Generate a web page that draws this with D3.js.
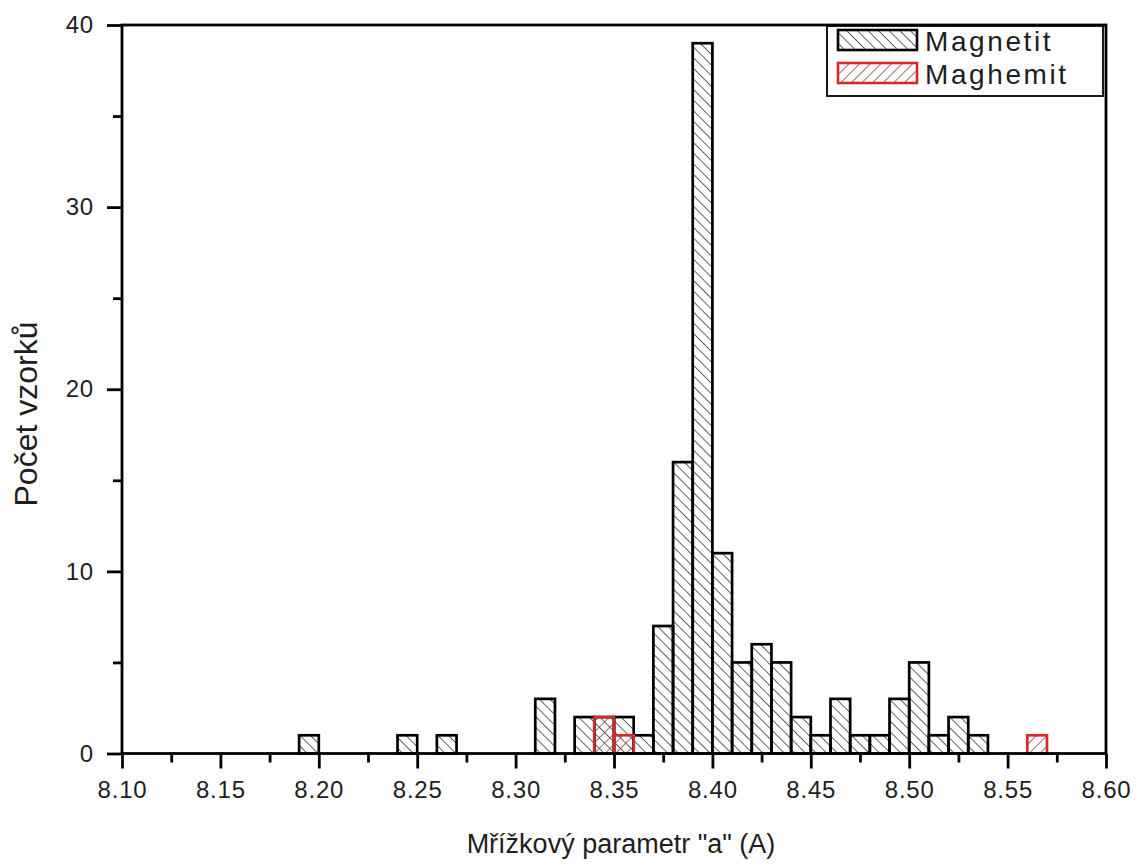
<!DOCTYPE html>
<html>
<head>
<meta charset="utf-8">
<script src="https://cdn.jsdelivr.net/npm/d3@7"></script>
<style>
  html, body { margin: 0; padding: 0; background: #fff; }
  svg { display: block; font-family: "Liberation Sans", Arial, sans-serif; }
</style>
</head>
<body>
<svg id="chart" width="1138" height="866"></svg>
<script>
// Histogram bins (left edge of each 0.01 Å bin) and sample counts
const binWidth = 0.01;
const magnetitBins   = [8.19, 8.24, 8.26, 8.31, 8.33, 8.34, 8.35, 8.36, 8.37, 8.38, 8.39, 8.40, 8.41, 8.42, 8.43, 8.44, 8.45, 8.46, 8.47, 8.48, 8.49, 8.50, 8.51, 8.52, 8.53];
const magnetitCounts = [1,    1,    1,    3,    2,    2,    2,    1,    7,    16,   39,   11,   5,    6,    5,    2,    1,    3,    1,    1,    3,    5,    1,    2,    1];
const maghemitBins   = [8.34, 8.35, 8.56];
const maghemitCounts = [2,    1,    1];

const xTicks = [8.10, 8.15, 8.20, 8.25, 8.30, 8.35, 8.40, 8.45, 8.50, 8.55, 8.60];
const yTicks = [0, 10, 20, 30, 40];
const seriesNames = ["Magnetit", "Maghemit"];

const svg = d3.select("#chart");
const plotL = 122, plotR = 1106, plotT = 25, plotB = 753.5;

const x = d3.scaleLinear().domain([8.10, 8.60]).range([plotL, plotR]);
const y = d3.scaleLinear().domain([0, 40]).range([plotB, plotT]);

// Hatch patterns
const defs = svg.append("defs");
function hatch(id, angle, color) {
  const s = 7.5;
  const p = defs.append("pattern")
    .attr("id", id)
    .attr("patternUnits", "userSpaceOnUse")
    .attr("width", s).attr("height", s)
    .attr("patternTransform", `rotate(${angle})`);
  p.append("line")
    .attr("x1", 0).attr("y1", 0).attr("x2", s).attr("y2", 0)
    .attr("stroke", color).attr("stroke-width", 1.3);
}
hatch("hatchBack", 45, "#111");
hatch("hatchFwd", -45, "#7a2424");

const red = "#d42a2a";

// Magnetit bars
svg.append("g").selectAll("rect")
  .data(magnetitBins.map((b, i) => ({ b, c: magnetitCounts[i] })))
  .join("rect")
  .attr("x", d => x(d.b))
  .attr("width", d => x(d.b + binWidth) - x(d.b))
  .attr("y", d => y(d.c))
  .attr("height", d => y(0) - y(d.c))
  .attr("fill", "url(#hatchBack)")
  .attr("stroke", "#000")
  .attr("stroke-width", 2.7);

// Maghemit bars drawn over
svg.append("g").selectAll("rect")
  .data(maghemitBins.map((b, i) => ({ b, c: maghemitCounts[i] })))
  .join("rect")
  .attr("x", d => x(d.b))
  .attr("width", d => x(d.b + binWidth) - x(d.b))
  .attr("y", d => y(d.c))
  .attr("height", d => y(0) - y(d.c))
  .attr("fill", "url(#hatchFwd)")
  .attr("stroke", red)
  .attr("stroke-width", 2.7);

// Frame
svg.append("rect")
  .attr("x", plotL).attr("y", plotT)
  .attr("width", plotR - plotL).attr("height", plotB - plotT)
  .attr("fill", "none").attr("stroke", "#000").attr("stroke-width", 2.8);

const textColor = "#1e1e1e";

// X axis
const xAxis = d3.axisBottom(x)
  .tickValues(xTicks)
  .tickFormat(d3.format(".2f"))
  .tickSize(15).tickPadding(12);
const gx = svg.append("g").attr("transform", `translate(0,${plotB})`).call(xAxis);
gx.attr("font-size", null).attr("font-family", null);
gx.select(".domain").remove();
gx.selectAll(".tick line").attr("stroke", "#000").attr("stroke-width", 2.8);
gx.selectAll(".tick text").style("font-size", "24px").style("letter-spacing", "0.8px")
  .attr("fill", textColor);

const xMinor = d3.range(0, 10).map(i => 8.125 + i * 0.05);
svg.append("g").attr("transform", `translate(0,${plotB})`)
  .call(d3.axisBottom(x).tickValues(xMinor).tickSize(9).tickFormat(""))
  .call(g => g.select(".domain").remove())
  .selectAll(".tick line").attr("stroke", "#000").attr("stroke-width", 2.8);

// Y axis
const yAxis = d3.axisLeft(y)
  .tickValues(yTicks)
  .tickSize(15).tickPadding(13);
const gy = svg.append("g").attr("transform", `translate(${plotL},0)`).call(yAxis);
gy.attr("font-size", null).attr("font-family", null);
gy.select(".domain").remove();
gy.selectAll(".tick line").attr("stroke", "#000").attr("stroke-width", 2.8);
gy.selectAll(".tick text").style("font-size", "24px").style("letter-spacing", "0.8px")
  .attr("fill", textColor);

const yMinor = [5, 15, 25, 35];
svg.append("g").attr("transform", `translate(${plotL},0)`)
  .call(d3.axisLeft(y).tickValues(yMinor).tickSize(9).tickFormat(""))
  .call(g => g.select(".domain").remove())
  .selectAll(".tick line").attr("stroke", "#000").attr("stroke-width", 2.8);

// Axis titles
svg.append("text")
  .attr("x", 621).attr("y", 853)
  .attr("text-anchor", "middle")
  .attr("font-size", 27).attr("fill", textColor)
  .text("Mřížkový parametr \"a\" (A)");

svg.append("text")
  .attr("transform", `translate(37,414) rotate(-90)`)
  .attr("text-anchor", "middle")
  .attr("font-size", 32).attr("fill", textColor)
  .text("Počet vzorků");

// Legend
const lg = svg.append("g");
lg.append("rect")
  .attr("x", 827).attr("y", 26).attr("width", 276).attr("height", 70)
  .attr("fill", "#fff").attr("stroke", "#000").attr("stroke-width", 1.8);
const legendItems = [
  { name: seriesNames[0], fill: "url(#hatchBack)", stroke: "#000" },
  { name: seriesNames[1], fill: "url(#hatchFwd)", stroke: red }
];
legendItems.forEach((d, i) => {
  const yy = 30 + i * 33;
  lg.append("rect")
    .attr("x", 838).attr("y", yy).attr("width", 79).attr("height", 20)
    .attr("fill", d.fill).attr("stroke", d.stroke).attr("stroke-width", 2.6);
  lg.append("text")
    .attr("x", 925).attr("y", yy + 21)
    .attr("font-size", 28).style("letter-spacing", "2.6px")
    .attr("fill", textColor)
    .text(d.name);
});
</script>
</body>
</html>
